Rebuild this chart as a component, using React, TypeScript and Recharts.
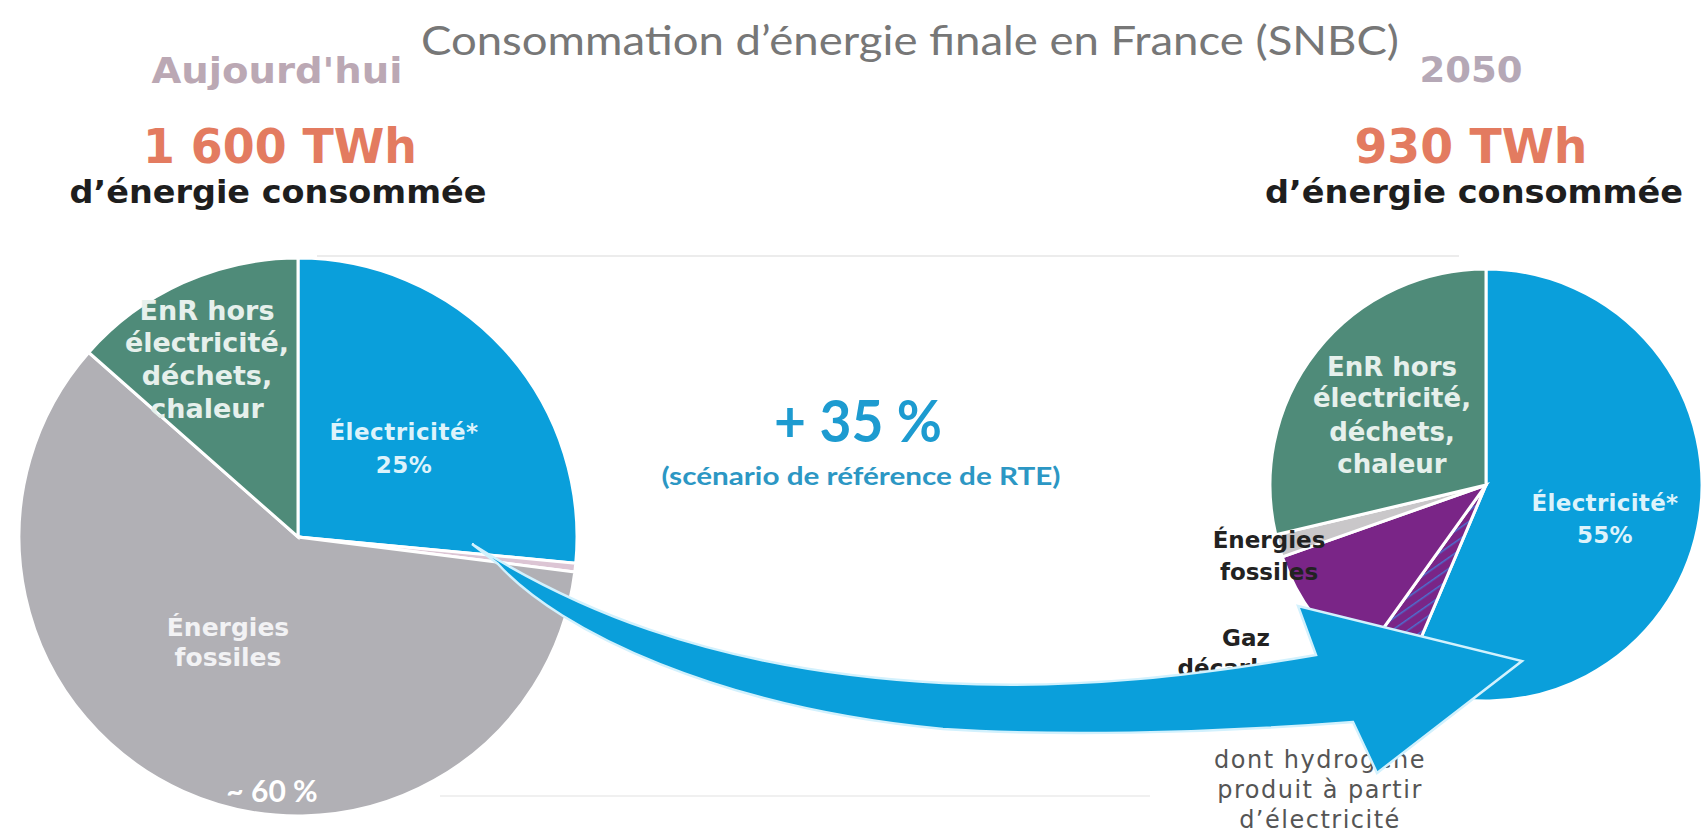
import React from 'react';
import { PieChart, Pie, Cell } from 'recharts';

// parts of final energy consumption (%)
const today = [
  { name: 'Électricité', value: 26.5 },
  { name: 'Autres', value: 0.5 },
  { name: 'Énergies fossiles', value: 59.5 },
  { name: 'EnR hors électricité, déchets, chaleur', value: 13.5 },
];
const todayColors = ['#0A9FDB', '#DCC5D4', '#B1B0B5', '#4F8B79'];

const in2050 = [
  { name: 'Électricité', value: 56.4 },
  { name: "dont hydrogène produit à partir d'électricité", value: 3.5 },
  { name: 'Gaz décarboné', value: 9.7 },
  { name: 'Énergies fossiles', value: 1.7 },
  { name: 'EnR hors électricité, déchets, chaleur', value: 28.7 },
];
const colors2050 = ['#0A9FDB', 'url(#h2hatch)', '#7A2587', '#C9C7C9', '#4F8B79'];

const totals = ['1 600 TWh', '930 TWh'];
const years = ["Aujourd'hui", '2050'];

const DJ = '"DejaVu Sans", Verdana, sans-serif';
const LATO = 'Lato, "Open Sans", sans-serif';

type TProps = {
  x: number;
  y: number;
  size: number;
  fill: string;
  children: string;
  bold?: boolean;
  family?: string;
  len?: number;
  ls?: number;
};

const T = ({ x, y, size, fill, children, bold, family = DJ, len, ls }: TProps) => (
  <text
    x={x}
    y={y}
    textAnchor="middle"
    fontFamily={family}
    fontSize={size}
    fontWeight={bold ? 700 : 400}
    fill={fill}
    letterSpacing={ls}
    textLength={len}
    lengthAdjust={len ? 'spacingAndGlyphs' : undefined}
  >
    {children}
  </text>
);

const App = () => {
  return (
    <div style={{ position: 'absolute', left: 0, top: 0, width: 1701, height: 835, background: '#fff' }}>
      <PieChart width={1701} height={835} margin={{ top: 0, right: 0, bottom: 0, left: 0 }}>
        <Pie
          data={today}
          dataKey="value"
          cx={298}
          cy={537}
          outerRadius={279}
          startAngle={90}
          endAngle={-270}
          stroke="#fff"
          strokeWidth={3}
          isAnimationActive={false}
        >
          {today.map((d, i) => (
            <Cell key={`t-${i}`} fill={todayColors[i]} />
          ))}
        </Pie>
        <Pie
          data={in2050}
          dataKey="value"
          cx={1486}
          cy={485}
          outerRadius={216}
          startAngle={90}
          endAngle={-270}
          stroke="#fff"
          strokeWidth={3}
          isAnimationActive={false}
        >
          {in2050.map((d, i) => (
            <Cell key={`f-${i}`} fill={colors2050[i]} />
          ))}
        </Pie>
      </PieChart>

      <svg
        width={1701}
        height={835}
        style={{ position: 'absolute', left: 0, top: 0, pointerEvents: 'none' }}
      >
        <defs>
          <pattern id="h2hatch" width="9" height="9" patternUnits="userSpaceOnUse" patternTransform="rotate(-35)">
            <rect width="9" height="9" fill="#7A2587" />
            <line x1="0" y1="0" x2="9" y2="0" stroke="#4C6FD0" strokeWidth="3" />
          </pattern>
          {/* green wedge of the left pie, so its label is cut like in the source */}
          <clipPath id="enrLeft">
            <polygon points="296,537 296,150 -80,150 -80,209" />
          </clipPath>
        </defs>

        {/* faint guide lines */}
        <line x1={317} y1={256} x2={1459} y2={256} stroke="#ececec" strokeWidth={2} />
        <line x1={440} y1={796} x2={1150} y2={796} stroke="#f0f0f0" strokeWidth={2} />

        <T x={910} y={55} size={40} fill="#777" family={LATO} len={978}>
          Consommation d’énergie finale en France (SNBC)
        </T>

        <T x={277} y={83} size={36} fill="#BBA8B4" bold len={251}>{years[0]}</T>
        <T x={1471} y={82} size={36} fill="#B5A8B6" bold len={103}>{years[1]}</T>
        <T x={280} y={163} size={48} fill="#E37B60" bold len={274}>{totals[0]}</T>
        <T x={1471} y={163} size={48} fill="#E37B60" bold len={233}>{totals[1]}</T>
        <T x={278} y={203} size={32} fill="#1e1e1e" bold len={417}>d’énergie consommée</T>
        <T x={1474} y={203} size={32} fill="#1e1e1e" bold len={418}>d’énergie consommée</T>

        {/* left pie labels */}
        <g clipPath="url(#enrLeft)">
          <T x={207} y={320} size={27} fill="#E6F0EC" bold>EnR hors</T>
          <T x={207} y={352} size={27} fill="#E6F0EC" bold>électricité,</T>
          <T x={207} y={385} size={27} fill="#E6F0EC" bold>déchets,</T>
          <T x={207} y={418} size={27} fill="#E6F0EC" bold>chaleur</T>
        </g>
        <T x={404} y={440} size={23} fill="#DDF3FB" bold ls={0.5}>Électricité*</T>
        <T x={404} y={473} size={23} fill="#DDF3FB" bold ls={0.5}>25%</T>
        <T x={228} y={636} size={25} fill="#F2F2F4" bold>Énergies</T>
        <T x={228} y={666} size={25} fill="#F2F2F4" bold>fossiles</T>
        <T x={272} y={802} size={30} fill="#ffffff" bold family={LATO}>~ 60 %</T>

        {/* middle */}
        <T x={858} y={442} size={58} fill="#1D9BD0" bold family={LATO} len={168}>+ 35 %</T>
        <T x={861} y={485} size={25} fill="#2C97C4" bold family={LATO} len={399}>(scénario de référence de RTE)</T>

        {/* right pie labels */}
        <T x={1392} y={376} size={26} fill="#E6F0EC" bold>EnR hors</T>
        <T x={1392} y={407} size={26} fill="#E6F0EC" bold>électricité,</T>
        <T x={1392} y={441} size={26} fill="#E6F0EC" bold>déchets,</T>
        <T x={1392} y={473} size={26} fill="#E6F0EC" bold>chaleur</T>
        <T x={1605} y={511} size={23} fill="#DDF3FB" bold ls={0.3}>Électricité*</T>
        <T x={1605} y={543} size={23} fill="#DDF3FB" bold ls={0.3}>55%</T>
        <T x={1269} y={548} size={23} fill="#222" bold>Énergies</T>
        <T x={1269} y={580} size={23} fill="#222" bold>fossiles</T>
        <T x={1246} y={646} size={23} fill="#222" bold>Gaz</T>
        <T x={1246} y={676} size={23} fill="#222" bold>décarboné</T>
        <T x={1320} y={768} size={24} fill="#555" ls={1.5}>dont hydrogène</T>
        <T x={1320} y={798} size={24} fill="#555" ls={1.5}>produit à partir</T>
        <T x={1320} y={828} size={24} fill="#555" ls={1.5}>d’électricité</T>

        {/* big curved arrow */}
        <path
          d="M 472 544 C 560 600, 700 670, 943 683 C 1080 690, 1200 675, 1316 655 L 1298 606 L 1522 661 L 1377 773 L 1353 722 C 1200 734, 1050 736, 943 729 C 720 708, 560 632, 498 564 Z"
          fill="#0A9FDB"
          stroke="#D2F1FD"
          strokeWidth={2.5}
          strokeLinejoin="miter"
        />
      </svg>
    </div>
  );
};

export default App;
